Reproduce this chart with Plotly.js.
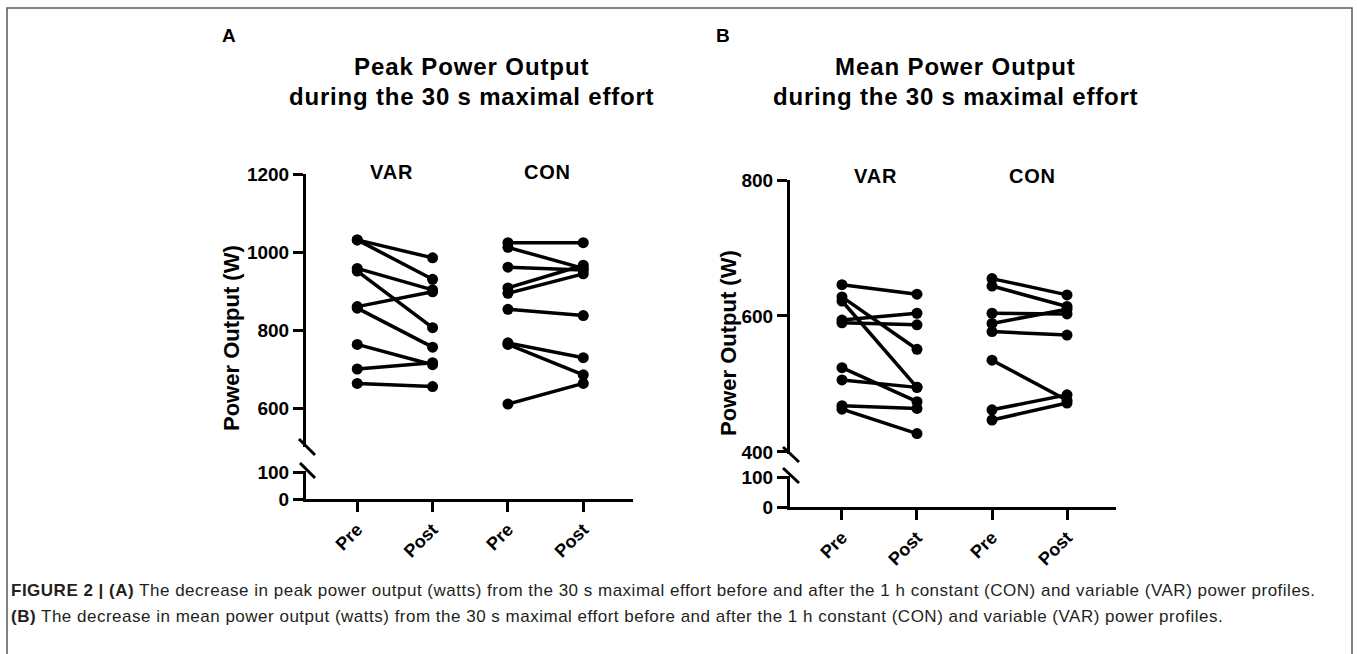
<!DOCTYPE html>
<html>
<head>
<meta charset="utf-8">
<script src="https://cdn.plot.ly/plotly-3.0.1.min.js"></script>
<style>html,body{margin:0;padding:0;background:#fff;}#chart{width:1357px;height:654px;}</style>
</head>
<body>
<div id="chart"></div>
<script>
// ---- data ----
const xTickVals = [1, 2, 3, 4];
const xTickText = ['Pre', 'Post', 'Pre', 'Post'];
const groupLabels = ['VAR', 'CON'];

const peakVarPre  = [1031, 1031, 958, 951, 860, 856, 763, 700, 663];
const peakVarPost = [985, 930, 903, 806, 898, 756, 711, 716, 655];
const peakConPre  = [1024, 1012, 961, 908, 894, 853, 767, 763, 610];
const peakConPost = [1024, 958, 954, 966, 944, 837, 729, 685, 663];

const meanVarPre  = [646, 628, 622, 594, 590, 524, 506, 468, 463];
const meanVarPost = [632, 551, 495, 604, 587, 474, 495, 464, 427];
const meanConPre  = [655, 644, 604, 589, 577, 535, 462, 447];
const meanConPost = [631, 614, 603, 610, 572, 476, 484, 472];

const peakUpperTicks = [600, 800, 1000, 1200];
const meanUpperTicks = [400, 600, 800];
const lowerTicks = [0, 100];

// ---- helpers ----
const W = 1357, H = 654;
const px = v => v / W;
const py = v => 1 - v / H;
const FONT = 'Liberation Sans, Arial, Helvetica, sans-serif';
const sp = (t, ls) => '<span style="letter-spacing:' + ls + 'px">' + t + '</span>';

function pairTrace(pre, post, xPre, xPost, xa, ya) {
  const xs = [], ys = [];
  for (let i = 0; i < pre.length; i++) {
    xs.push(xPre, xPost, null);
    ys.push(pre[i], post[i], null);
  }
  return {
    type: 'scatter', mode: 'lines+markers', x: xs, y: ys, xaxis: xa, yaxis: ya,
    line: {color: '#000', width: 3.5}, marker: {color: '#000', size: 11},
    cliponaxis: false, showlegend: false, hoverinfo: 'skip'
  };
}

const traces = [
  pairTrace(peakVarPre, peakVarPost, xTickVals[0], xTickVals[1], 'x', 'y'),
  pairTrace(peakConPre, peakConPost, xTickVals[2], xTickVals[3], 'x', 'y'),
  {type: 'scatter', x: [], y: [], xaxis: 'x', yaxis: 'y2', showlegend: false},
  pairTrace(meanVarPre, meanVarPost, xTickVals[0], xTickVals[1], 'x2', 'y3'),
  pairTrace(meanConPre, meanConPost, xTickVals[2], xTickVals[3], 'x2', 'y3'),
  {type: 'scatter', x: [], y: [], xaxis: 'x2', yaxis: 'y4', showlegend: false}
];

const tickFont = {family: FONT, size: 19, color: '#000', weight: 'bold'};
function yAx(domTopPx, domBotPx, range, ticks, anchor) {
  return {
    domain: [py(domBotPx), py(domTopPx)], range: range, anchor: anchor,
    tickmode: 'array', tickvals: ticks, ticktext: ticks.map(String),
    showline: true, linewidth: 3, linecolor: '#000', ticks: 'outside',
    ticklen: 10, tickwidth: 3, tickcolor: '#000', showgrid: false, zeroline: false,
    tickfont: tickFont, fixedrange: true
  };
}
function xAx(leftPx, rightPx, range, anchor) {
  return {
    domain: [px(leftPx), px(rightPx)], range: range, anchor: anchor,
    tickmode: 'array', tickvals: xTickVals, ticktext: xTickText, tickangle: -45,
    showline: true, linewidth: 3, linecolor: '#000', ticks: 'outside',
    ticklen: 10, tickwidth: 3, tickcolor: '#000', showgrid: false, zeroline: false,
    tickfont: {family: FONT, size: 18, color: '#000', weight: 'bold'}, fixedrange: true
  };
}

function slash(x0, y0, x1, y1) {
  return {type: 'line', xref: 'paper', yref: 'paper', x0: px(x0), y0: py(y0), x1: px(x1), y1: py(y1),
          line: {color: '#000', width: 3}};
}
function ann(text, x, y, size, opts) {
  return Object.assign({
    text: text, xref: 'paper', yref: 'paper', x: px(x), y: py(y), showarrow: false,
    xanchor: 'center', yanchor: 'middle',
    font: {family: FONT, size: size, color: '#000', weight: 'bold'}
  }, opts || {});
}

const captionFont = {family: FONT, size: 17, color: '#231f20'};

const layout = {
  width: W, height: H,
  margin: {l: 0, r: 0, t: 0, b: 0, pad: 0},
  paper_bgcolor: '#fff', plot_bgcolor: 'rgba(0,0,0,0)',
  showlegend: false,
  xaxis:  xAx(306, 633, [0.32, 4.66], 'y2'),
  yaxis:  yAx(174, 447, [500, 1200], peakUpperTicks, 'x'),
  yaxis2: yAx(470.5, 499, [0, 105.6], lowerTicks, 'x'),
  xaxis2: xAx(790, 1116, [0.307, 4.653], 'y4'),
  yaxis3: yAx(180, 454, [397, 800], meanUpperTicks, 'x2'),
  yaxis4: yAx(475.5, 507, [0, 105], lowerTicks, 'x2'),
  shapes: [
    {type: 'rect', xref: 'paper', yref: 'paper', x0: px(7), x1: px(1352), y0: py(8), y1: py(720),
     line: {color: '#5a5a5a', width: 1.5}, fillcolor: 'rgba(0,0,0,0)'},
    slash(299, 439, 315, 455), slash(300, 463, 315, 478),
    slash(783, 447, 799, 462), slash(783, 468, 799, 483)
  ],
  annotations: [
    ann('A', 229, 35, 19),
    ann('B', 723, 35, 19),
    ann(sp('Peak Power Output', 0.9), 471, 66, 24),
    ann(sp('during the 30 s maximal effort', 0.8), 471, 97, 24),
    ann(sp('Mean Power Output', 0.9), 955, 66, 24),
    ann(sp('during the 30 s maximal effort', 0.8), 955, 97, 24),
    ann(sp(groupLabels[0], 0.8), 391, 172, 20),
    ann(sp(groupLabels[1], 0.8), 547, 172, 20),
    ann(sp(groupLabels[0], 0.8), 876, 176, 20),
    ann(sp(groupLabels[1], 0.8), 1032, 176, 20),
    ann('Power Output (W)', 231, 338, 22, {textangle: -90}),
    ann('Power Output (W)', 728, 343, 22, {textangle: -90}),
    {text: sp('<b>FIGURE 2 | (A)</b> The decrease in peak power output (watts) from the 30 s maximal effort before and after the 1 h constant (CON) and variable (VAR) power profiles.', 0.5),
     xref: 'paper', yref: 'paper', x: px(9), y: py(590), xanchor: 'left', yanchor: 'middle', align: 'left', showarrow: false, font: captionFont},
    {text: sp('<b>(B)</b> The decrease in mean power output (watts) from the 30 s maximal effort before and after the 1 h constant (CON) and variable (VAR) power profiles.', 0.5),
     xref: 'paper', yref: 'paper', x: px(9), y: py(616), xanchor: 'left', yanchor: 'middle', align: 'left', showarrow: false, font: captionFont}
  ]
};

Plotly.newPlot('chart', traces, layout, {staticPlot: true, displayModeBar: false});
</script>
</body>
</html>
